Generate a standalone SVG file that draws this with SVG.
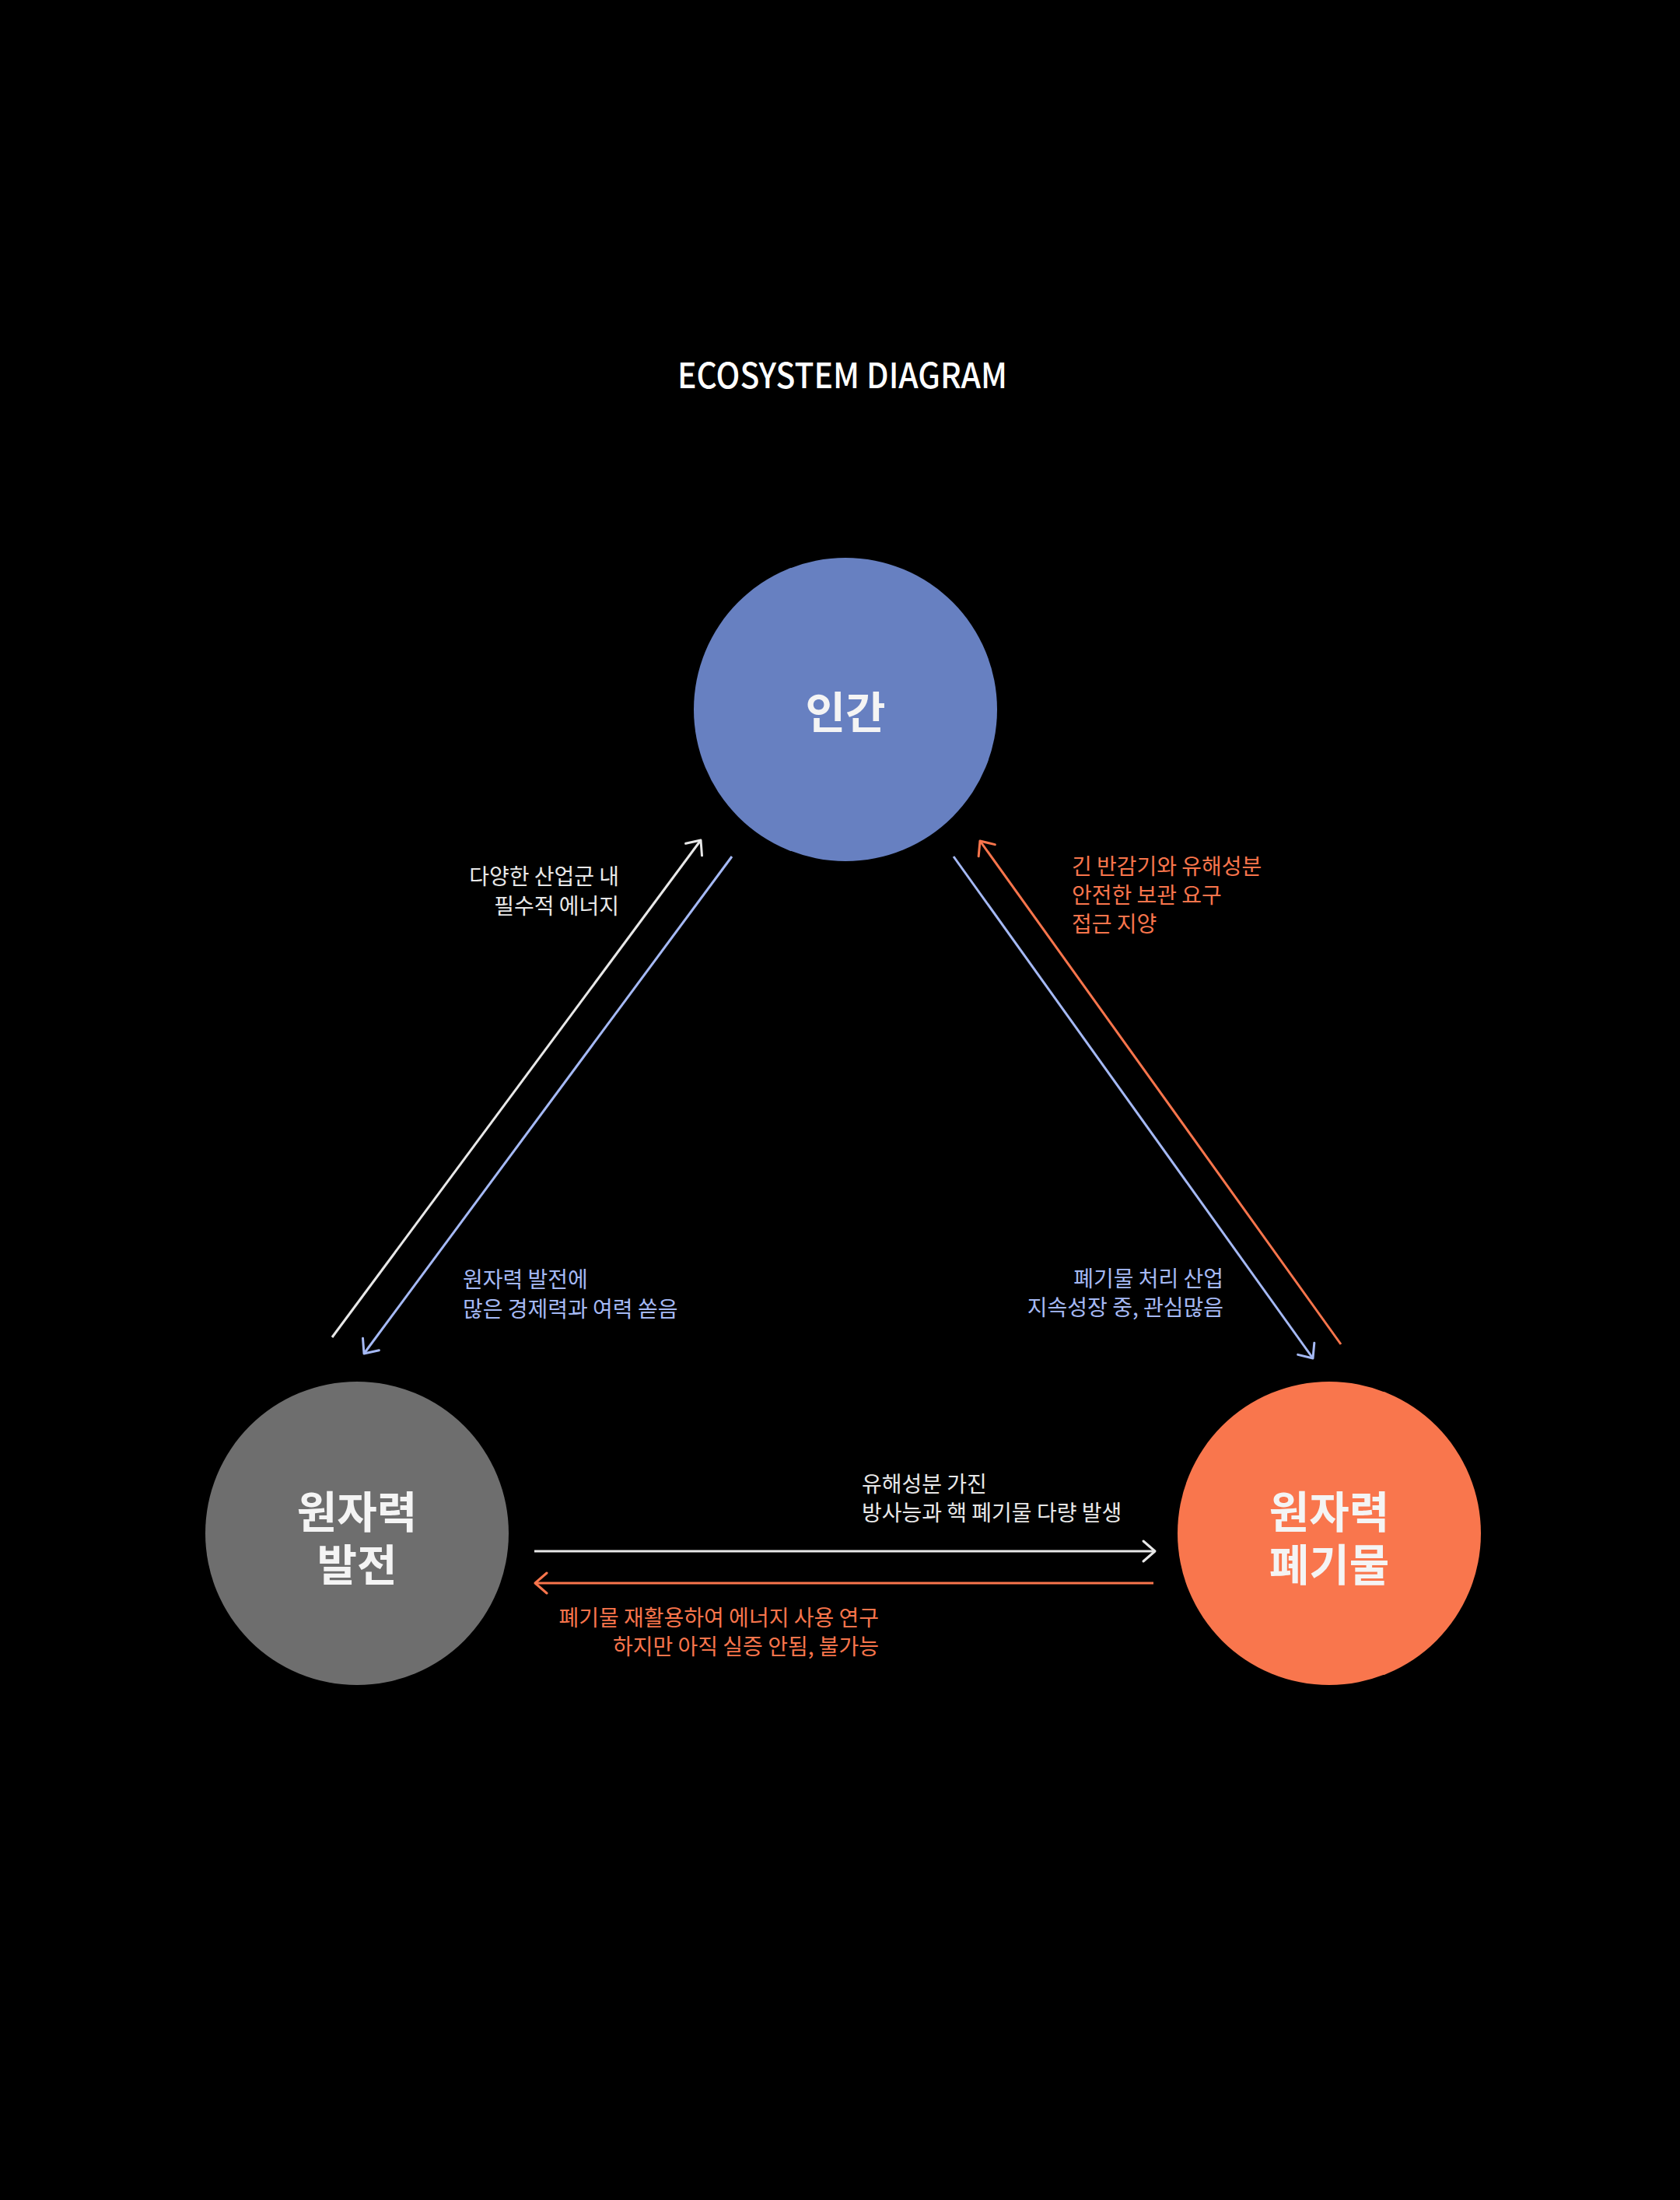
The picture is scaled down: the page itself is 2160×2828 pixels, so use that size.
<svg xmlns="http://www.w3.org/2000/svg" width="2160" height="2828" viewBox="0 0 2160 2828">
<style>
text{font-family:"Noto Sans CJK KR","Noto Sans",sans-serif}
.title{font-size:45px;font-weight:500;fill:#ffffff}
.node{font-size:56px;font-weight:700;fill:#f4f4f4}
.lbl{font-size:28px;font-weight:400}
.w{fill:#e8e8e8}
.b{fill:#a5b9f5}
.o{fill:#f9754c}
.ln{fill:none;stroke-width:3}
</style>
<defs>
<marker id="aw" markerUnits="userSpaceOnUse" markerWidth="40" markerHeight="40" refX="0" refY="0" viewBox="-20 -20 40 40" orient="auto"><path d="M-15,-13 L0,0 L-15,13" fill="none" stroke="#e8e8e8" stroke-width="3" stroke-linecap="round" stroke-linejoin="round"/></marker>
<marker id="ab" markerUnits="userSpaceOnUse" markerWidth="40" markerHeight="40" refX="0" refY="0" viewBox="-20 -20 40 40" orient="auto"><path d="M-15,-13 L0,0 L-15,13" fill="none" stroke="#a5b9f5" stroke-width="3" stroke-linecap="round" stroke-linejoin="round"/></marker>
<marker id="ao" markerUnits="userSpaceOnUse" markerWidth="40" markerHeight="40" refX="0" refY="0" viewBox="-20 -20 40 40" orient="auto"><path d="M-15,-13 L0,0 L-15,13" fill="none" stroke="#f9754c" stroke-width="3" stroke-linecap="round" stroke-linejoin="round"/></marker>
</defs>
<rect x="0" y="0" width="2160" height="2828" fill="#000000"/>
<text class="title" x="1083" y="499" text-anchor="middle" textLength="424" lengthAdjust="spacingAndGlyphs">ECOSYSTEM DIAGRAM</text>

<g id="connectors">
<line class="ln" x1="427" y1="1719" x2="901" y2="1080" stroke="#e8e8e8" marker-end="url(#aw)"/>
<line class="ln" x1="941" y1="1101" x2="468" y2="1740" stroke="#a5b9f5" marker-end="url(#ab)"/>
<line class="ln" x1="1724" y1="1728" x2="1260" y2="1081" stroke="#f9754c" marker-end="url(#ao)"/>
<line class="ln" x1="1226" y1="1101" x2="1688" y2="1746" stroke="#a5b9f5" marker-end="url(#ab)"/>
<line class="ln" x1="687" y1="1994" x2="1485" y2="1994" stroke="#e8e8e8" marker-end="url(#aw)"/>
<line class="ln" x1="1483" y1="2035" x2="688" y2="2035" stroke="#f9754c" marker-end="url(#ao)"/>
<text class="lbl w" text-anchor="end"><tspan x="796" y="1137">다양한 산업군 내</tspan><tspan x="796" y="1175">필수적 에너지</tspan></text>
<text class="lbl b"><tspan x="595" y="1655">원자력 발전에</tspan><tspan x="595" y="1693">많은 경제력과 여력 쏟음</tspan></text>
<text class="lbl o"><tspan x="1378" y="1124">긴 반감기와 유해성분</tspan><tspan x="1378" y="1161">안전한 보관 요구</tspan><tspan x="1378" y="1198">접근 지양</tspan></text>
<text class="lbl b" text-anchor="end"><tspan x="1573" y="1654">폐기물 처리 산업</tspan><tspan x="1573" y="1691">지속성장 중, 관심많음</tspan></text>
<text class="lbl w"><tspan x="1108" y="1918">유해성분 가진</tspan><tspan x="1108" y="1955">방사능과 핵 폐기물 다량 발생</tspan></text>
<text class="lbl o" text-anchor="end"><tspan x="1130" y="2090">폐기물 재활용하여 에너지 사용 연구</tspan><tspan x="1130" y="2127">하지만 아직 실증 안됨, 불가능</tspan></text>
</g>

<g id="node-human">
<circle cx="1087" cy="912" r="195" fill="#6780c1"/>
<text class="node" x="1087" y="936" text-anchor="middle">인간</text>
</g>
<g id="node-power">
<circle cx="459" cy="1971" r="195" fill="#6e6e6e"/>
<text class="node" x="459" y="1964" text-anchor="middle">원자력</text>
<text class="node" x="459" y="2032" text-anchor="middle">발전</text>
</g>
<g id="node-waste">
<circle cx="1709" cy="1971" r="195" fill="#f9764d"/>
<text class="node" x="1709" y="1964" text-anchor="middle">원자력</text>
<text class="node" x="1709" y="2032" text-anchor="middle">폐기물</text>
</g>
</svg>
